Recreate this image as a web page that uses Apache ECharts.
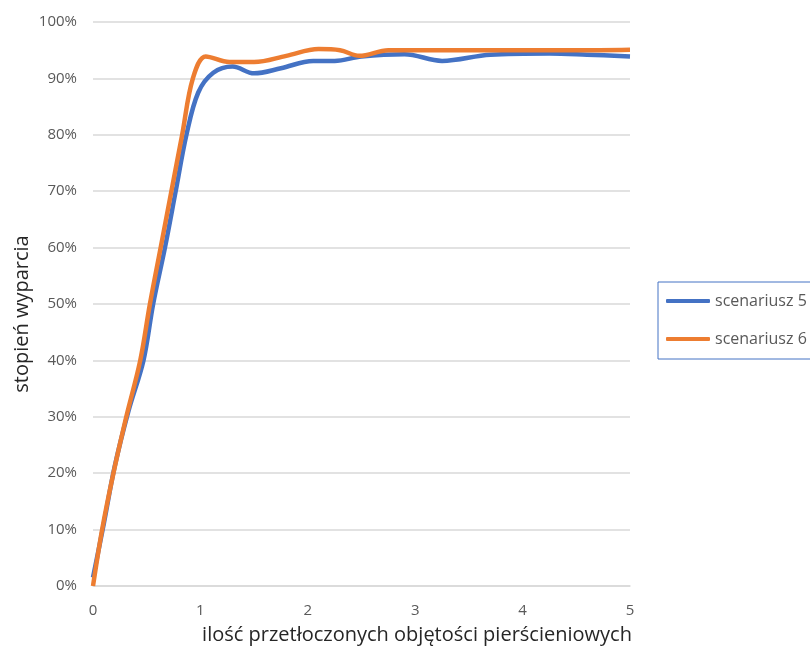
<!DOCTYPE html>
<html>
<head>
<meta charset="utf-8">
<script src="https://cdn.jsdelivr.net/npm/echarts@6/dist/echarts.min.js"></script>
<style>html,body{margin:0;padding:0;background:#fff}#c{width:810px;height:646px}</style>
</head>
<body>
<div id="c"></div>
<script>
var xTicks = [0, 1, 2, 3, 4, 5];
var seriesNames = ['scenariusz 5', 'scenariusz 6'];
var xTitle = 'ilość przetłoczonych objętości pierścieniowych';
var yTitle = 'stopień wyparcia';
var s5 = [[0,1.5],[0.1,11],[0.2,21],[0.33,31],[0.47,40],[0.56,50],[0.67,60],[0.77,70],[0.87,80],[0.98,87.5],[1.12,91],[1.3,92.1],[1.5,90.9],[1.75,91.8],[2.05,93.1],[2.25,93.1],[2.5,93.9],[2.9,94.3],[3.25,93.1],[3.7,94.2],[4.25,94.4],[4.6,94.2],[5,93.9]];
var s6 = [[0,0],[0.085,10],[0.19,20],[0.31,30],[0.44,40],[0.53,50],[0.63,60],[0.73,70],[0.83,80],[0.93,90],[1.05,93.9],[1.27,92.9],[1.5,92.9],[1.8,94],[2.1,95.2],[2.3,95],[2.48,94.0],[2.75,95],[3,95],[3.5,95],[4,95],[4.5,95],[5,95.1]];
var colors = ['#4472C4', '#ED7D31'];
var FONT = 'Open Sans';

var chart = echarts.init(document.getElementById('c'));
chart.setOption({
  animation: false,
  color: colors,
  grid: {left: 93, right: 180, top: 22, bottom: 60},
  legend: {
    orient: 'vertical', left: 658, top: 282,
    padding: [11, 60, 12, 8],
    borderColor: '#4472C4', borderWidth: 1,
    icon: 'roundRect',
    itemWidth: 44, itemHeight: 4, itemGap: 22,
    textStyle: {fontFamily: FONT, fontSize: 16, color: '#595959', lineHeight: 14},
    data: seriesNames
  },
  xAxis: {
    type: 'value', min: xTicks[0], max: xTicks[xTicks.length-1], interval: 1,
    axisLine: {lineStyle: {color: '#d9d9d9', width: 1.5}},
    axisTick: {show: false},
    splitLine: {show: false},
    axisLabel: {fontFamily: FONT, fontSize: 15, color: '#595959', margin: 17}
  },
  yAxis: {
    type: 'value', min: 0, max: 100, interval: 10,
    axisLine: {show: false}, axisTick: {show: false},
    splitLine: {lineStyle: {color: '#d9d9d9', width: 1.5}},
    axisLabel: {fontFamily: FONT, fontSize: 15, color: '#595959', margin: 16, formatter: '{value}%'}
  },
  graphic: [{
    type: 'text', x: 417, y: 635,
    style: {text: xTitle, font: '20px "Open Sans"', fill: '#262626', align: 'center', verticalAlign: 'middle'}
  }, {
    type: 'text', x: 22, y: 314, rotation: Math.PI / 2,
    style: {text: yTitle, font: '20px "Open Sans"', fill: '#262626', align: 'center', verticalAlign: 'middle'}
  }],
  series: [
    {name: seriesNames[0], type: 'line', data: s5, smooth: 0.35, symbol: 'none', lineStyle: {width: 4.5, color: colors[0]}},
    {name: seriesNames[1], type: 'line', data: s6, smooth: 0.35, symbol: 'none', lineStyle: {width: 4.5, color: colors[1]}}
  ]
});
</script>
</body>
</html>
